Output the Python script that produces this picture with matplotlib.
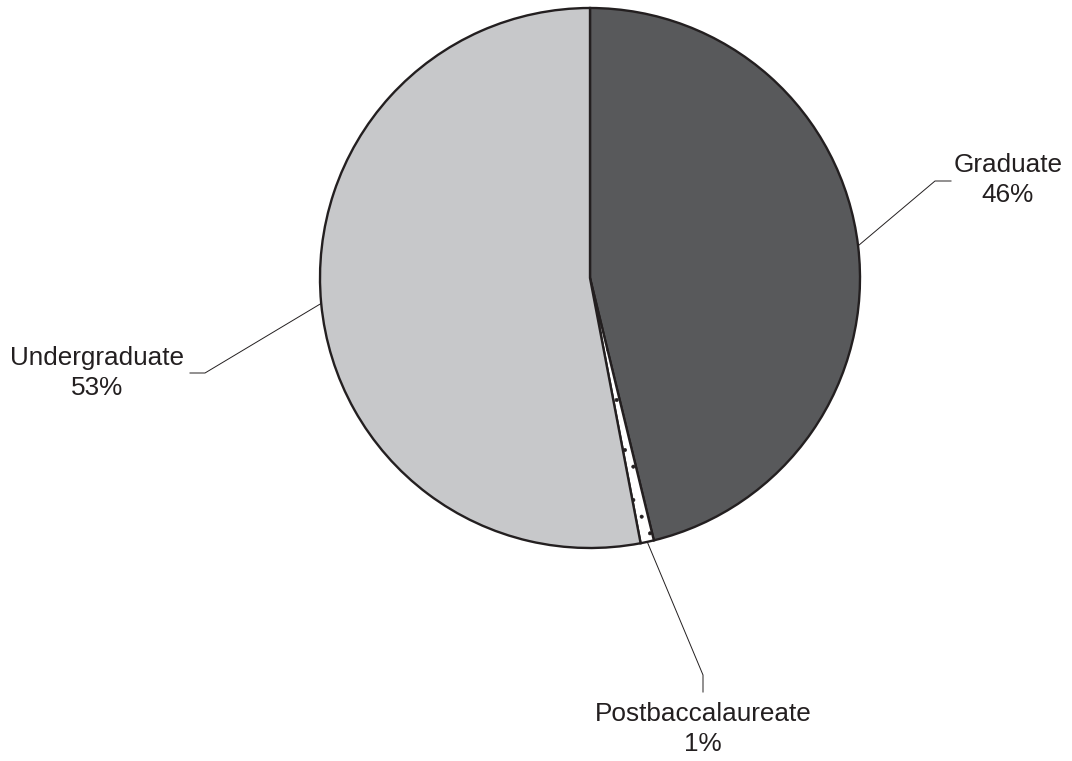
import numpy as np
import matplotlib.pyplot as plt

plt.rcParams['font.family'] = ['Liberation Sans', 'DejaVu Sans']
plt.rcParams['hatch.linewidth'] = 0.4

labels = ['Graduate', 'Postbaccalaureate', 'Undergraduate']
shares = [46.2, 0.8, 53.0]
pct_text = ['46%', '1%', '53%']
colors = ['#58595b', '#ffffff', '#c7c8ca']
hatches = [None, '.', None]

# label layout (figure pixels, y up): elbow point, line end, text centre
W, H = 1072, 761
cx, cy, r = 590, H - 278, 270
elbow = [(935, H - 181), (703, H - 675), (205, H - 373)]
lend = [(951, H - 181), (703, H - 692), (190, H - 373)]
tpos = [(1008, H - 180), (703, H - 729), (97, H - 373)]

fig = plt.figure(figsize=(W / 100, H / 100), dpi=100)
ax = fig.add_axes([0, 0, 1, 1])

wedges, _ = ax.pie(shares, colors=colors, startangle=90, counterclock=False,
                   center=(cx, cy), radius=r, frame=True,
                   wedgeprops=dict(edgecolor='#231f20', linewidth=1.7))
for w, h in zip(wedges, hatches):
    if h:
        w.set_hatch(h)

ax.set_xlim(0, W)
ax.set_ylim(0, H)
ax.set_aspect('equal')
ax.axis('off')

for i, w in enumerate(wedges):
    mid = np.deg2rad((w.theta1 + w.theta2) / 2)
    x0 = cx + r * np.cos(mid)
    y0 = cy + r * np.sin(mid)
    ax.plot([x0, elbow[i][0], lend[i][0]], [y0, elbow[i][1], lend[i][1]],
            color='#231f20', lw=0.7)
    ax.text(tpos[i][0], tpos[i][1], labels[i] + '\n' + pct_text[i],
            ha='center', va='center', fontsize=18.8, color='#231f20',
            linespacing=1.35)

fig.savefig('out.png', dpi=100)
